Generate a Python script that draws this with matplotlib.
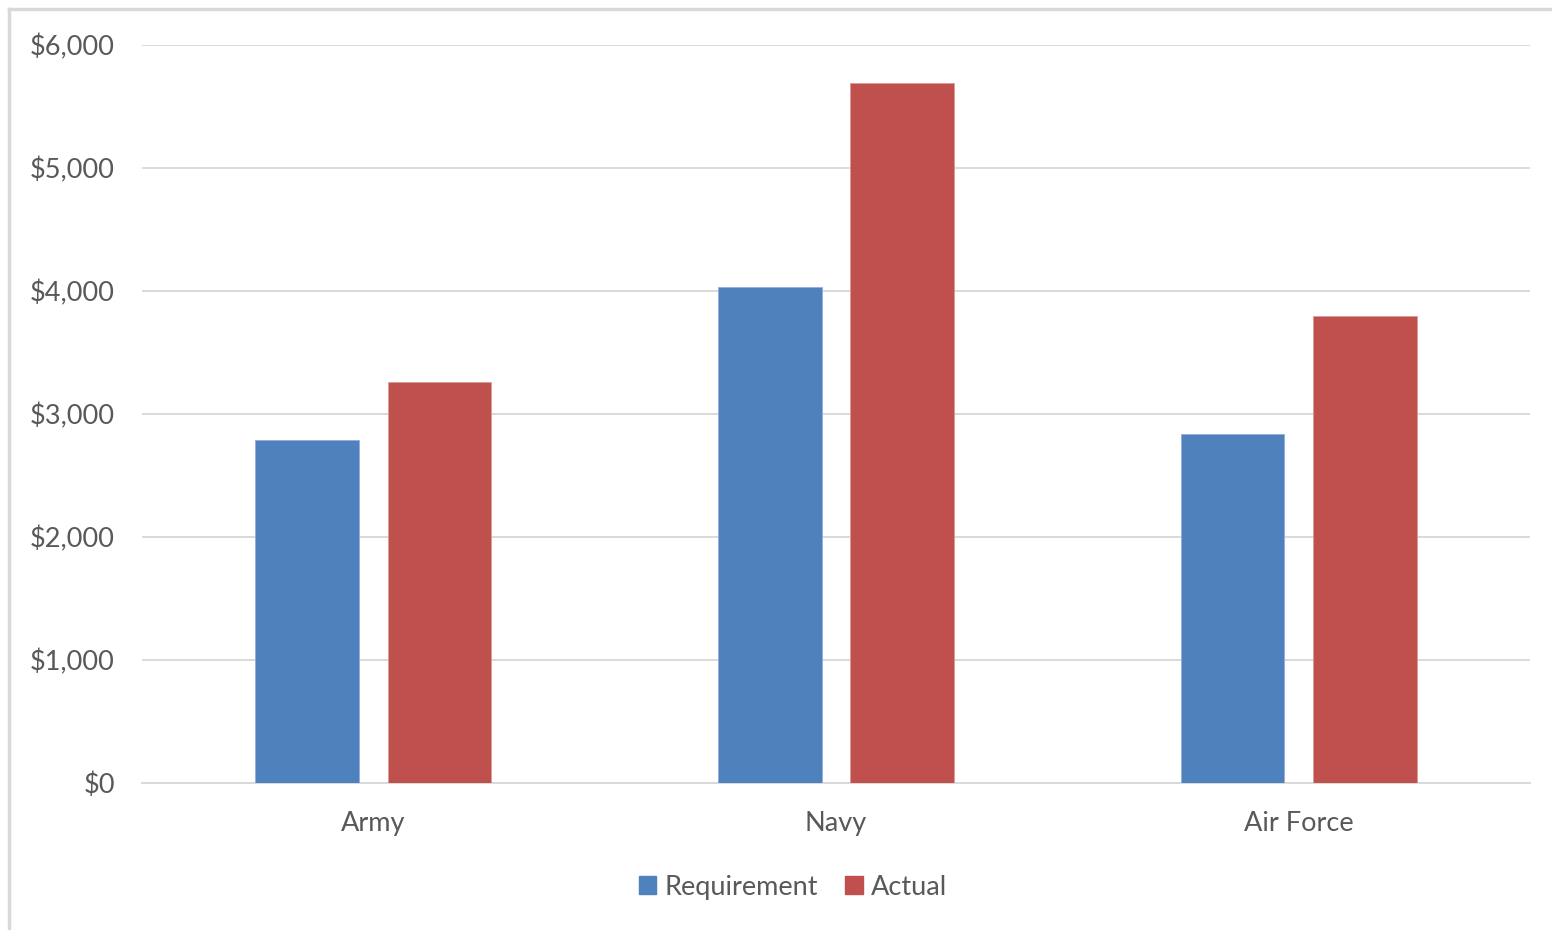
import numpy as np
import matplotlib
matplotlib.use("Agg")
import matplotlib.pyplot as plt
from matplotlib.lines import Line2D
from matplotlib.patches import Patch
from matplotlib.ticker import FuncFormatter

categories = ["Army", "Navy", "Air Force"]
requirement = [2790, 4030, 2840]
actual = [3260, 5690, 3800]
series_names = ["Requirement", "Actual"]

plt.rcParams['font.family'] = ['Lato', 'DejaVu Sans']
text_color = "#595959"
grid_color = "#D9D9D9"
blue = "#4F81BD"
red = "#C0504D"

fig = plt.figure(figsize=(15.52, 9.3), dpi=100)
ax = fig.add_axes([142 / 1552, 1 - 783 / 930, 1388 / 1552, 738 / 930])

x = np.arange(len(categories))
width = 0.2245
offset = 0.143
ax.bar(x - offset, requirement, width, color=blue, edgecolor="#8FAEDB", linewidth=0.6, zorder=3)
ax.bar(x + offset, actual, width, color=red, edgecolor="#DC9A98", linewidth=0.6, zorder=3)

ax.set_xlim(-0.5, 2.5)
ax.set_ylim(0, 6000)
ax.set_yticks(np.arange(0, 6001, 1000))
ax.yaxis.set_major_formatter(FuncFormatter(lambda v, p: "${:,.0f}".format(v)))
ax.set_xticks(x)
ax.set_xticklabels(categories)
ax.grid(axis="y", color=grid_color, linewidth=1.4, zorder=0)
ax.tick_params(axis="both", length=0, labelsize=19.5, labelcolor=text_color)
ax.tick_params(axis="y", pad=19.5)
ax.tick_params(axis="x", pad=20)
for s in ["top", "right", "left"]:
    ax.spines[s].set_visible(False)
ax.spines["bottom"].set_color(grid_color)
ax.spines["bottom"].set_linewidth(1.4)

handles = [Patch(color=blue), Patch(color=red)]
leg = fig.legend(handles, series_names, loc="center", bbox_to_anchor=(793 / 1552, 1 - 887 / 930),
                 ncol=2, frameon=False, fontsize=19.5, handlelength=0.65, handleheight=0.65,
                 handletextpad=0.3, columnspacing=1.0)
for t in leg.get_texts():
    t.set_color(text_color)

# outer chart frame (top and left edges)
fig.add_artist(Line2D([9 / 1552, 1.0], [1 - 9 / 930, 1 - 9 / 930], color=grid_color, linewidth=2.5))
fig.add_artist(Line2D([9 / 1552, 9 / 1552], [0, 1 - 9 / 930], color=grid_color, linewidth=2.5))

fig.savefig("out.png", dpi=100)
